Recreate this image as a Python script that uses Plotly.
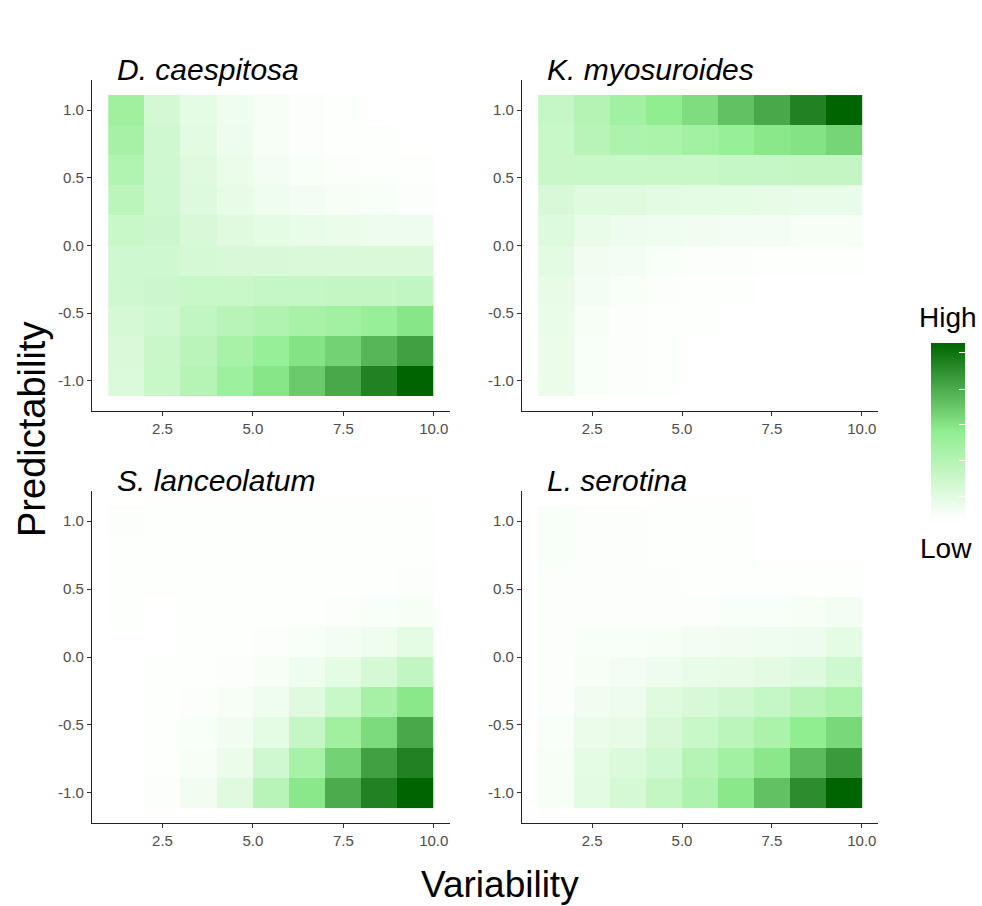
import numpy as np
import plotly.graph_objects as go

# ---- data ----
variability = [1.5, 2.5, 3.5, 4.5, 5.5, 6.5, 7.5, 8.5, 9.5]
predictability = [-1.0, -0.778, -0.556, -0.333, -0.111, 0.111, 0.333, 0.556, 0.778, 1.0]
species = ["D. caespitosa", "K. myosuroides", "S. lanceolatum", "L. serotina"]

# rows: bottom (-1.0) to top (1.0); columns: variability 1.5 .. 9.5
d_caespitosa = [
    [0.16, 0.25, 0.33, 0.44, 0.53, 0.63, 0.75, 0.89, 1.00],
    [0.17, 0.24, 0.31, 0.39, 0.47, 0.54, 0.60, 0.70, 0.78],
    [0.19, 0.22, 0.28, 0.32, 0.36, 0.39, 0.42, 0.47, 0.53],
    [0.21, 0.23, 0.25, 0.25, 0.26, 0.26, 0.27, 0.27, 0.28],
    [0.22, 0.22, 0.19, 0.18, 0.18, 0.17, 0.17, 0.17, 0.17],
    [0.25, 0.23, 0.18, 0.14, 0.12, 0.10, 0.09, 0.08, 0.08],
    [0.30, 0.22, 0.15, 0.11, 0.07, 0.05, 0.04, 0.03, 0.02],
    [0.35, 0.21, 0.14, 0.09, 0.05, 0.03, 0.02, 0.01, 0.01],
    [0.40, 0.21, 0.13, 0.08, 0.04, 0.02, 0.01, 0.01, 0.00],
    [0.43, 0.20, 0.12, 0.07, 0.04, 0.02, 0.01, 0.00, 0.00],
]
k_myosuroides = [
    [0.09, 0.03, 0.02, 0.01, 0.00, 0.00, 0.00, 0.00, 0.00],
    [0.09, 0.03, 0.02, 0.01, 0.00, 0.00, 0.00, 0.00, 0.00],
    [0.10, 0.04, 0.02, 0.01, 0.01, 0.00, 0.00, 0.00, 0.00],
    [0.11, 0.05, 0.03, 0.02, 0.01, 0.01, 0.00, 0.00, 0.00],
    [0.13, 0.06, 0.05, 0.03, 0.02, 0.02, 0.01, 0.01, 0.01],
    [0.15, 0.10, 0.08, 0.07, 0.06, 0.05, 0.05, 0.04, 0.04],
    [0.18, 0.14, 0.14, 0.13, 0.12, 0.12, 0.11, 0.10, 0.10],
    [0.24, 0.25, 0.25, 0.25, 0.25, 0.26, 0.26, 0.27, 0.27],
    [0.25, 0.32, 0.37, 0.38, 0.42, 0.47, 0.52, 0.54, 0.59],
    [0.26, 0.34, 0.42, 0.50, 0.56, 0.66, 0.75, 0.89, 1.00],
]
s_lanceolatum = [
    [0.00, 0.02, 0.06, 0.14, 0.32, 0.52, 0.74, 0.89, 1.00],
    [0.00, 0.01, 0.04, 0.09, 0.21, 0.39, 0.60, 0.78, 0.89],
    [0.00, 0.01, 0.03, 0.06, 0.12, 0.26, 0.43, 0.57, 0.75],
    [0.00, 0.01, 0.02, 0.04, 0.07, 0.14, 0.25, 0.40, 0.52],
    [0.00, 0.01, 0.01, 0.02, 0.04, 0.07, 0.12, 0.19, 0.28],
    [0.00, 0.00, 0.01, 0.01, 0.02, 0.03, 0.05, 0.07, 0.12],
    [0.01, 0.00, 0.01, 0.01, 0.01, 0.01, 0.02, 0.03, 0.04],
    [0.01, 0.01, 0.01, 0.01, 0.01, 0.01, 0.01, 0.01, 0.02],
    [0.01, 0.01, 0.01, 0.01, 0.01, 0.01, 0.01, 0.01, 0.01],
    [0.02, 0.01, 0.01, 0.01, 0.01, 0.01, 0.01, 0.01, 0.01],
]
l_serotina = [
    [0.04, 0.13, 0.19, 0.27, 0.37, 0.52, 0.66, 0.85, 1.00],
    [0.04, 0.12, 0.16, 0.22, 0.33, 0.42, 0.52, 0.68, 0.80],
    [0.03, 0.09, 0.11, 0.18, 0.25, 0.30, 0.38, 0.50, 0.58],
    [0.02, 0.06, 0.08, 0.14, 0.18, 0.21, 0.26, 0.32, 0.38],
    [0.02, 0.04, 0.05, 0.08, 0.10, 0.11, 0.13, 0.15, 0.22],
    [0.02, 0.03, 0.03, 0.04, 0.05, 0.06, 0.07, 0.08, 0.12],
    [0.02, 0.02, 0.02, 0.02, 0.02, 0.03, 0.03, 0.04, 0.05],
    [0.02, 0.02, 0.02, 0.02, 0.01, 0.01, 0.01, 0.01, 0.01],
    [0.03, 0.02, 0.02, 0.01, 0.01, 0.01, 0.00, 0.00, 0.00],
    [0.03, 0.02, 0.02, 0.01, 0.01, 0.01, 0.00, 0.00, 0.00],
]
panels = [d_caespitosa, k_myosuroides, s_lanceolatum, l_serotina]

x_tickvals = [2.5, 5.0, 7.5, 10.0]
x_ticktext = ["2.5", "5.0", "7.5", "10.0"]
y_tickvals = [-1.0, -0.5, 0.0, 0.5, 1.0]
y_ticktext = ["-1.0", "-0.5", "0.0", "0.5", "1.0"]

W, H = 982, 906
FONT = "Liberation Sans, Arial, sans-serif"

# pixel layout of panels: (left, right, top, bottom)
boxes = [(92, 450, 80, 411), (522, 878, 80, 411),
         (92, 450, 491, 823), (522, 878, 491, 823)]

fig = go.Figure()
for i, (z, box) in enumerate(zip(panels, boxes)):
    n = i + 1
    xa = "x" if n == 1 else f"x{n}"
    ya = "y" if n == 1 else f"y{n}"
    fig.add_trace(go.Heatmap(
        x=variability, y=predictability, z=z,
        coloraxis="coloraxis", xaxis=xa, yaxis=ya,
        hoverinfo="skip", xgap=0, ygap=0,
    ))
    l, r, t, b = box
    axstyle = dict(showline=True, linecolor="#222222", linewidth=1.1,
                   ticks="outside", ticklen=4, tickcolor="#333333",
                   showgrid=False, zeroline=False,
                   tickfont=dict(family=FONT, size=15, color="#4d4d4d"))
    fig.update_layout(**{
        ("xaxis" if n == 1 else f"xaxis{n}"): dict(
            domain=[l / W, r / W], anchor=ya, range=[0.55, 10.45],
            tickvals=x_tickvals, ticktext=x_ticktext, **axstyle),
        ("yaxis" if n == 1 else f"yaxis{n}"): dict(
            domain=[1 - b / H, 1 - t / H], anchor=xa, range=[-1.222, 1.222],
            tickvals=y_tickvals, ticktext=y_ticktext, **axstyle),
    })
    fig.add_annotation(
        text=f"<i>{species[i]}</i>", xref="paper", yref="paper",
        x=(l + 23) / W, y=1 - (t - 11) / H, xanchor="left", yanchor="middle",
        showarrow=False, font=dict(family=FONT, size=30, color="black"))

fig.add_annotation(text="Predictability", xref="paper", yref="paper",
                   x=32 / W, y=1 - 430 / H, textangle=-90, showarrow=False,
                   xanchor="center", yanchor="middle",
                   font=dict(family=FONT, size=38, color="black"))
fig.add_annotation(text="Variability", xref="paper", yref="paper",
                   x=500 / W, y=1 - 884 / H, showarrow=False,
                   xanchor="center", yanchor="middle",
                   font=dict(family=FONT, size=37, color="black"))
fig.add_annotation(text="High", xref="paper", yref="paper",
                   x=948 / W, y=1 - 317 / H, showarrow=False,
                   xanchor="center", yanchor="middle",
                   font=dict(family=FONT, size=28, color="black"))
fig.add_annotation(text="Low", xref="paper", yref="paper",
                   x=946 / W, y=1 - 548 / H, showarrow=False,
                   xanchor="center", yanchor="middle",
                   font=dict(family=FONT, size=28, color="black"))

fig.update_layout(
    width=W, height=H, autosize=False,
    margin=dict(l=0, r=0, t=0, b=0),
    paper_bgcolor="white", plot_bgcolor="white",
    showlegend=False,
    coloraxis=dict(
        cmin=0, cmax=1,
        colorscale=[[0.0, "#ffffff"], [0.5, "#90ee90"], [1.0, "#006400"]],
        colorbar=dict(
            x=931 / W, xanchor="left", y=1 - 431.5 / H, yanchor="middle",
            lenmode="pixels", len=177, thicknessmode="pixels", thickness=34,
            outlinewidth=0, xpad=0, ypad=0,
            ticks="inside", ticklen=6, tickcolor="white",
            tickvals=[0.13, 0.335, 0.54, 0.74, 0.945],
            ticktext=["", "", "", "", ""], showticklabels=False,
        ),
    ),
)

fig.write_html("out.html")
